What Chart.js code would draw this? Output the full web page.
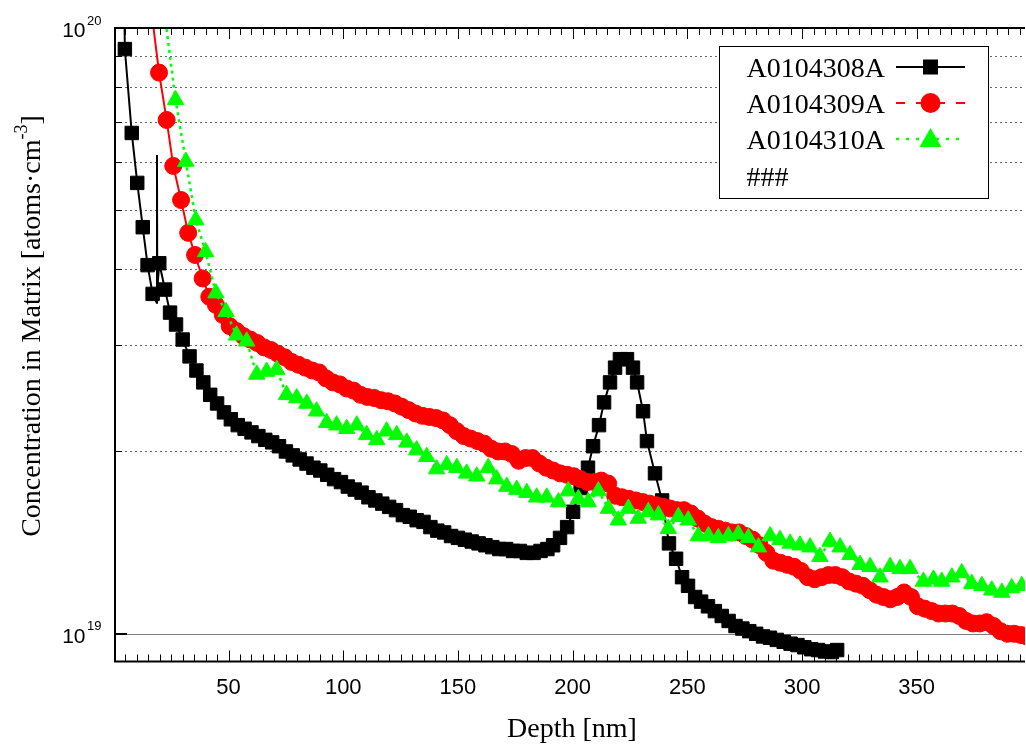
<!DOCTYPE html>
<html>
<head>
<meta charset="utf-8">
<script src="https://cdn.jsdelivr.net/npm/chart.js@4.4.1/dist/chart.umd.min.js"></script>
<style>
  html, body { margin: 0; padding: 0; background: #fff; }
</style>
</head>
<body>
<canvas id="chart" width="1026" height="747"></canvas>
<script>
// concentrations are in units of 1e19 atoms/cm3, depth in nm
const seriesNames = ['A0104308A', 'A0104309A', 'A0104310A', '###'];
const xTicks = [50, 100, 150, 200, 250, 300, 350];
const yDecades = [1, 10];
const yDecadeExp = ['19', '20'];
const yMinor = [2, 3, 4, 5, 6, 7, 8, 9];

const black = [
  [4.3, 13.0], [4.8, 9.23], [7.8, 6.71], [10.2, 5.55], [12.6, 4.69], [14.7, 4.06], [16.9, 3.64],
  [18.66, 3.52], [18.8, 6.17], [18.92, 3.70], [19.8, 4.09], [22.3, 3.70], [24.5, 3.39], [27.1, 3.24],
  [30, 3.06], [33, 2.87], [36, 2.72], [39, 2.60], [42, 2.48], [45, 2.40], [48, 2.32], [51, 2.26],
  [54, 2.21], [57, 2.18], [60, 2.15], [63, 2.12], [66, 2.09], [69, 2.07], [72, 2.04], [75, 2.00],
  [78, 1.97], [81, 1.94], [84, 1.91], [87, 1.88], [90, 1.86], [93, 1.83], [96, 1.80], [99, 1.78],
  [102, 1.75], [105, 1.73], [108, 1.71], [111, 1.68], [114, 1.66], [117, 1.64], [120, 1.62],
  [123, 1.60], [126, 1.57], [129, 1.56], [132, 1.54], [135, 1.53], [138, 1.50], [141, 1.48],
  [144, 1.47], [147, 1.45], [150, 1.44], [153, 1.43], [156, 1.42], [159, 1.41], [162, 1.40],
  [165, 1.39], [168, 1.38], [171, 1.38], [174, 1.37], [177, 1.37], [180, 1.36], [183, 1.36],
  [186, 1.37], [189, 1.38], [191.5, 1.40], [194.5, 1.44], [197.6, 1.50], [200.2, 1.59],
  [203.5, 1.74], [206.7, 1.88], [208.9, 2.04], [211.5, 2.21], [213.7, 2.41], [216.3, 2.60],
  [218.5, 2.75], [220.6, 2.84], [223.7, 2.84], [226.3, 2.75], [228.1, 2.60], [230.7, 2.33],
  [232.4, 2.08], [235.9, 1.84], [239, 1.66], [242, 1.41], [245.1, 1.33], [247.7, 1.24],
  [250.3, 1.20], [253.4, 1.15], [256, 1.13], [259, 1.11], [262, 1.09], [265, 1.07], [268, 1.05],
  [271, 1.03], [274, 1.02], [277, 1.01], [280, 1.00], [283, 0.99], [286, 0.985], [289, 0.977],
  [292, 0.97], [295, 0.963], [298, 0.958], [301, 0.95], [304, 0.943], [307, 0.94], [310, 0.935],
  [313, 0.933], [315.3, 0.94]
];
const blackLineOnly = [0, 7, 8, 9];

const red = [
  [16.6, 10.5], [19.7, 8.44], [23.0, 7.05], [25.9, 5.92], [29.3, 5.20], [32.4, 4.59], [35.4, 4.22],
  [38.7, 3.86], [41.6, 3.60], [44.5, 3.49], [47.5, 3.36], [50.5, 3.22], [53.5, 3.16], [56.5, 3.10],
  [59.5, 3.06], [62.5, 3.02], [65.5, 2.97], [68.5, 2.94], [71.5, 2.90], [74.5, 2.86], [77.5, 2.81],
  [80.5, 2.78], [83.5, 2.75], [86.5, 2.72], [89.5, 2.70], [92.5, 2.64], [95.5, 2.60], [98.5, 2.58],
  [101.5, 2.54], [104.5, 2.52], [107.5, 2.48], [110.5, 2.46], [113.5, 2.45], [116.5, 2.43],
  [119.5, 2.42], [122.5, 2.40], [125.5, 2.37], [128.5, 2.34], [131.5, 2.31], [134.5, 2.29],
  [137.5, 2.28], [140.5, 2.27], [143.5, 2.25], [146.5, 2.21], [149.5, 2.16], [152.5, 2.12],
  [155.5, 2.10], [158.5, 2.08], [161.5, 2.06], [164.5, 2.02], [167.5, 2.00], [170.5, 2.00],
  [173.5, 1.98], [176.5, 1.93], [179.5, 1.95], [182.5, 1.95], [185.5, 1.91], [188.5, 1.88],
  [191.5, 1.86], [194.5, 1.84], [197.5, 1.83], [200.5, 1.82], [203.5, 1.80], [206.5, 1.78],
  [209.5, 1.78], [212.5, 1.79], [215.5, 1.77], [218.5, 1.69], [221.5, 1.68], [224.5, 1.67],
  [227.5, 1.66], [230.5, 1.65], [233.5, 1.64], [236.5, 1.63], [239.5, 1.62], [242.5, 1.61],
  [245.5, 1.60], [248.5, 1.60], [251.5, 1.58], [254.5, 1.55], [257.5, 1.52], [260.5, 1.50],
  [263.5, 1.49], [266.5, 1.48], [269.5, 1.47], [272.5, 1.47], [275.5, 1.45], [278.5, 1.43],
  [281.5, 1.40], [284.5, 1.36], [287.5, 1.32], [290.5, 1.31], [293.5, 1.30], [296.5, 1.29],
  [299.5, 1.27], [302.5, 1.24], [305.5, 1.23], [308.5, 1.24], [311.5, 1.25], [314.5, 1.25],
  [317.5, 1.24], [320.5, 1.22], [323.5, 1.21], [326.5, 1.20], [329.5, 1.18], [332.5, 1.16],
  [335.5, 1.15], [338.5, 1.14], [341.5, 1.15], [344.5, 1.17], [347.5, 1.15], [350.5, 1.11],
  [353.5, 1.10], [356.5, 1.09], [359.5, 1.08], [362.5, 1.08], [365.5, 1.08], [368.5, 1.07],
  [371.5, 1.05], [374.5, 1.04], [377.5, 1.04], [380.5, 1.045], [383.5, 1.03], [386.5, 1.01],
  [389.5, 1.00], [392.5, 1.00], [395.5, 0.995], [398.0, 0.99]
];
const redLineOnly = [0];

const green = [
  [22.2, 10.5], [26.9, 7.61], [31.4, 6.02], [35.7, 4.82], [40.0, 4.27], [44.5, 3.65], [48.9, 3.40],
  [53.5, 3.11], [57.9, 3.04], [62.3, 2.68], [66.6, 2.71], [71.0, 2.73], [75.3, 2.48], [79.7, 2.45],
  [84.1, 2.40], [88.4, 2.33], [92.8, 2.23], [97.1, 2.21], [101.5, 2.18], [105.9, 2.21], [110.2, 2.13],
  [114.6, 2.09], [118.9, 2.16], [123.3, 2.13], [127.7, 2.07], [132.0, 2.01], [136.4, 1.96],
  [140.7, 1.87], [145.1, 1.90], [149.5, 1.88], [153.8, 1.84], [158.2, 1.82], [163.2, 1.88],
  [166.9, 1.80], [171.3, 1.75], [175.6, 1.73], [180.0, 1.71], [184.3, 1.68], [188.7, 1.68],
  [193.8, 1.65], [198.1, 1.72], [202.5, 1.67], [206.8, 1.65], [211.2, 1.72], [215.6, 1.61],
  [219.9, 1.54], [224.3, 1.61], [228.6, 1.55], [233.0, 1.59], [237.4, 1.57], [241.7, 1.49],
  [246.1, 1.56], [250.4, 1.54], [254.8, 1.45], [259.2, 1.45], [263.5, 1.44], [267.9, 1.45],
  [272.2, 1.46], [276.6, 1.44], [281.0, 1.39], [286.1, 1.45], [290.4, 1.43], [294.8, 1.41],
  [299.1, 1.40], [303.5, 1.39], [307.8, 1.34], [312.2, 1.42], [316.6, 1.39], [320.9, 1.35],
  [325.3, 1.30], [329.7, 1.29], [334.0, 1.24], [338.4, 1.29], [342.7, 1.28], [347.1, 1.28],
  [352.9, 1.22], [357.3, 1.23], [360.9, 1.22], [365.3, 1.24], [369.6, 1.26], [374.0, 1.21],
  [378.4, 1.20], [382.7, 1.18], [387.1, 1.17], [391.4, 1.19], [395.8, 1.20]
];
const greenLineOnly = [0];

const SERIF = '"Liberation Serif", "Times New Roman", serif';
const SANS = '"Liberation Sans", Arial, sans-serif';

const toPoints = rows => rows.map(r => ({x: r[0], y: r[1]}));
const radiusFor = (skip, r) => ctx => skip.includes(ctx.dataIndex) ? 0 : r;

// gridlines, frame, tick labels, axis titles and the gnuplot-like key
const decorations = {
  id: 'decorations',
  beforeDatasetsDraw(chart) {
    const {ctx, chartArea: a, scales: {y}} = chart;
    ctx.save();
    ctx.lineWidth = 1;
    ctx.strokeStyle = '#666';
    ctx.setLineDash([2, 3]);
    yMinor.forEach(v => {
      const py = Math.round(y.getPixelForValue(v)) + 0.5;
      ctx.beginPath(); ctx.moveTo(a.left, py); ctx.lineTo(a.right, py); ctx.stroke();
    });
    ctx.setLineDash([]);
    ctx.strokeStyle = '#808080';
    const p1 = Math.round(y.getPixelForValue(yDecades[0])) + 0.5;
    ctx.beginPath(); ctx.moveTo(a.left, p1); ctx.lineTo(a.right, p1); ctx.stroke();
    ctx.restore();
  },
  afterDatasetsDraw(chart) {
    const {ctx, chartArea: a, scales: {x, y}} = chart;
    ctx.save();
    ctx.strokeStyle = '#000';
    ctx.fillStyle = '#000';

    // frame
    ctx.lineWidth = 2;
    ctx.beginPath();
    ctx.moveTo(a.right, a.top); ctx.lineTo(a.left, a.top);
    ctx.lineTo(a.left, a.bottom); ctx.lineTo(a.right, a.bottom);
    ctx.stroke();

    // x ticks (inward, bottom and top)
    ctx.lineWidth = 1;
    for (let v = 5; v < x.max; v += 5) {
      const px = Math.round(x.getPixelForValue(v)) + 0.5;
      const len = v % 50 === 0 ? 11 : 7;
      ctx.beginPath();
      ctx.moveTo(px, a.bottom); ctx.lineTo(px, a.bottom - len);
      ctx.moveTo(px, a.top); ctx.lineTo(px, a.top + len);
      ctx.stroke();
    }
    // y ticks
    yMinor.forEach(v => {
      const py = Math.round(y.getPixelForValue(v)) + 0.5;
      ctx.beginPath(); ctx.moveTo(a.left, py); ctx.lineTo(a.left + 7, py); ctx.stroke();
    });
    ctx.lineWidth = 2;
    yDecades.forEach(v => {
      const py = Math.round(y.getPixelForValue(v));
      ctx.beginPath(); ctx.moveTo(a.left, py); ctx.lineTo(a.left + 12, py); ctx.stroke();
    });

    // x tick labels
    ctx.font = '22px ' + SANS;
    ctx.textAlign = 'center';
    ctx.textBaseline = 'alphabetic';
    xTicks.forEach(v => ctx.fillText(String(v), x.getPixelForValue(v), 694));

    // y tick labels 10^n
    yDecades.forEach((v, i) => {
      const py = y.getPixelForValue(v);
      ctx.font = '21px ' + SANS;
      ctx.textAlign = 'right';
      ctx.fillText('10', 85.5, py + 9.3);
      ctx.font = '13px ' + SANS;
      ctx.textAlign = 'left';
      ctx.fillText(yDecadeExp[i], 87, py - 3.5);
    });

    // x title
    ctx.font = '28px ' + SERIF;
    ctx.textAlign = 'center';
    ctx.fillText('Depth [nm]', 572, 737);

    // y title with superscript
    ctx.save();
    ctx.translate(40, 326);
    ctx.rotate(-Math.PI / 2);
    const main = 'Concentration in Matrix [atoms\u00b7cm';
    const sup = '-3';
    ctx.font = '28px ' + SERIF;
    const wMain = ctx.measureText(main).width;
    const wClose = ctx.measureText(']').width;
    ctx.font = '18px ' + SERIF;
    const wSup = ctx.measureText(sup).width;
    let tx = -(wMain + wSup + wClose) / 2;
    ctx.textAlign = 'left';
    ctx.font = '28px ' + SERIF;
    ctx.fillText(main, tx, 0);
    tx += wMain;
    ctx.font = '18px ' + SERIF;
    ctx.fillText(sup, tx, -13);
    tx += wSup;
    ctx.font = '28px ' + SERIF;
    ctx.fillText(']', tx, 0);
    ctx.restore();

    // key
    ctx.fillStyle = '#fff';
    ctx.fillRect(719, 46, 270, 153);
    ctx.lineWidth = 1;
    ctx.strokeStyle = '#000';
    ctx.strokeRect(719.5, 46.5, 269, 152);
    const rows = [67, 103, 139, 176.5];
    ctx.fillStyle = '#000';
    ctx.font = '28px ' + SERIF;
    ctx.textAlign = 'left';
    seriesNames.forEach((name, i) => ctx.fillText(name, 746.5, rows[i] + 9.5));

    const sx0 = 896, sx1 = 965, mx = 930.5;
    // black solid + square
    ctx.lineWidth = 2;
    ctx.strokeStyle = '#000';
    ctx.beginPath(); ctx.moveTo(sx0, rows[0]); ctx.lineTo(sx1, rows[0]); ctx.stroke();
    ctx.fillStyle = '#000';
    ctx.fillRect(mx - 7.5, rows[0] - 7.5, 15, 15);
    // red dashed + circle
    ctx.strokeStyle = '#ff0000';
    ctx.setLineDash([9, 11]);
    ctx.beginPath(); ctx.moveTo(sx0, rows[1]); ctx.lineTo(sx1, rows[1]); ctx.stroke();
    ctx.setLineDash([]);
    ctx.fillStyle = '#ff0000';
    ctx.beginPath(); ctx.arc(mx, rows[1], 10, 0, Math.PI * 2); ctx.fill();
    // green dotted + triangle
    ctx.strokeStyle = '#00ff00';
    ctx.lineWidth = 2.5;
    ctx.setLineDash([3, 7]);
    ctx.beginPath(); ctx.moveTo(sx0, rows[2]); ctx.lineTo(sx1, rows[2]); ctx.stroke();
    ctx.setLineDash([]);
    ctx.fillStyle = '#00ff00';
    ctx.beginPath();
    ctx.moveTo(mx, rows[2] - 11);
    ctx.lineTo(mx + 11, rows[2] + 8);
    ctx.lineTo(mx - 11, rows[2] + 8);
    ctx.closePath(); ctx.fill();

    ctx.restore();
  }
};

const noPad = s => { s.paddingLeft = 0; s.paddingRight = 0; s.paddingTop = 0; s.paddingBottom = 0; };

new Chart(document.getElementById('chart'), {
  type: 'scatter',
  data: {
    datasets: [{
      label: seriesNames[0],
      data: toPoints(black),
      showLine: true,
      borderColor: '#000',
      borderWidth: 2,
      pointStyle: 'rect',
      pointRadius: radiusFor(blackLineOnly, 9.5),
      pointBackgroundColor: '#000',
      pointBorderColor: '#000',
      pointBorderWidth: 1,
      order: 3
    }, {
      label: seriesNames[1],
      data: toPoints(red),
      showLine: true,
      borderColor: '#ff0000',
      borderWidth: 2,
      pointStyle: 'circle',
      pointRadius: radiusFor(redLineOnly, 8.5),
      pointBackgroundColor: '#ff0000',
      pointBorderColor: '#ff0000',
      pointBorderWidth: 1,
      order: 2
    }, {
      label: seriesNames[2],
      data: toPoints(green),
      showLine: true,
      borderColor: '#00ff00',
      borderWidth: 2.5,
      borderDash: [3, 4],
      pointStyle: 'triangle',
      pointRadius: radiusFor(greenLineOnly, 9.5),
      pointBackgroundColor: '#00ff00',
      pointBorderColor: '#00ff00',
      pointBorderWidth: 1,
      order: 1
    }]
  },
  options: {
    responsive: false,
    animation: false,
    events: [],
    layout: {autoPadding: false, padding: {left: 115, right: 1, top: 28, bottom: 85.5}},
    scales: {
      x: {
        type: 'linear',
        min: 0.5,
        max: 397.2,
        ticks: {display: false},
        grid: {display: false},
        border: {display: false},
        afterFit: s => { s.height = 0; noPad(s); }
      },
      y: {
        type: 'logarithmic',
        min: 0.9,
        max: 10,
        ticks: {display: false},
        grid: {display: false},
        border: {display: false},
        afterFit: s => { s.width = 0; noPad(s); }
      }
    },
    plugins: {
      legend: {display: false},
      tooltip: {enabled: false}
    }
  },
  plugins: [decorations]
});
</script>
</body>
</html>
